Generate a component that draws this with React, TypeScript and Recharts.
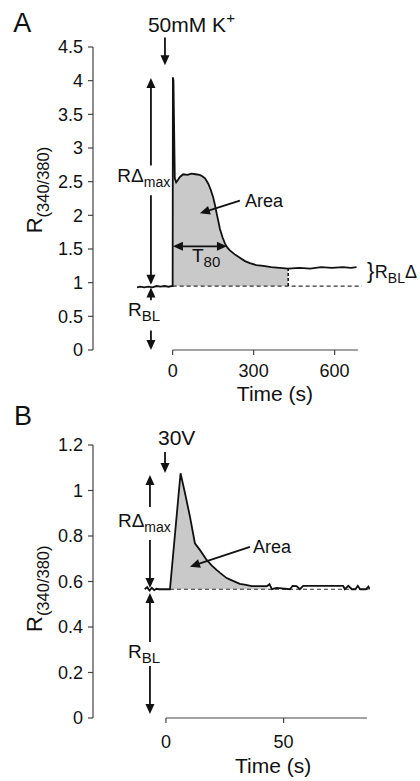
import React from 'react';
import { ComposedChart, Line, Area, XAxis, YAxis, ReferenceLine, ReferenceDot } from 'recharts';

// ---------- Panel A data ----------
const timeA = [-132, -120, -105, -90, -75, -60, -45, -30, -15, -5, 0, 1, 3, 8, 13, 20, 27, 39, 55, 70, 85, 100, 110, 120, 132, 141, 150, 157, 163, 170, 175, 185, 194, 203, 212, 230, 249, 268, 286, 310, 336, 365, 397, 428, 470, 510, 550, 590, 630, 660, 681];
const ratioA = [0.93, 0.94, 0.93, 0.94, 0.93, 0.95, 0.94, 0.95, 0.94, 0.95, 0.95, 4.05, 4.0, 2.55, 2.49, 2.53, 2.57, 2.61, 2.6, 2.62, 2.61, 2.6, 2.58, 2.55, 2.47, 2.38, 2.27, 2.15, 2.03, 1.9, 1.8, 1.67, 1.58, 1.52, 1.48, 1.42, 1.37, 1.32, 1.29, 1.26, 1.25, 1.23, 1.22, 1.21, 1.22, 1.21, 1.23, 1.22, 1.23, 1.22, 1.23];
const baselineA = 0.95;
const shadeEndA = 428;
const xTicksA = [0, 300, 600];
const yTicksA = [0, 0.5, 1, 1.5, 2, 2.5, 3, 3.5, 4, 4.5];

// ---------- Panel B data ----------
const timeB = [-9, -8, -7, -6, -5, -4, -3, 0, 1.7, 6.2, 8.1, 10.2, 12.3, 14.4, 17.3, 19.5, 21.5, 23, 25.8, 28, 31.4, 34, 36.4, 43, 44, 45, 47, 52.7, 53.8, 55.5, 56.9, 58.3, 75.3, 76, 77.5, 79, 80.5, 81.5, 82.5, 85, 86, 86.6];
const ratioB = [0.566, 0.575, 0.56, 0.572, 0.562, 0.568, 0.566, 0.566, 0.566, 1.076, 0.988, 0.885, 0.768, 0.739, 0.695, 0.67, 0.651, 0.638, 0.615, 0.605, 0.59, 0.585, 0.58, 0.58, 0.588, 0.566, 0.572, 0.566, 0.581, 0.58, 0.566, 0.581, 0.581, 0.566, 0.581, 0.566, 0.566, 0.581, 0.566, 0.566, 0.578, 0.566];
const baselineB = 0.566;
const shadeStartB = 1.7;
const shadeEndB = 43;
const xTicksB = [0, 50];
const yTicksB = [0, 0.2, 0.4, 0.6, 0.8, 1, 1.2];

const dataA = timeA.map((t, i) => ({ t, r: ratioA[i], s: t >= 0 && t <= shadeEndA ? ratioA[i] : null }));
const dataB = timeB.map((t, i) => ({ t, r: ratioB[i], s: t >= shadeStartB && t <= shadeEndB ? ratioB[i] : null }));

const FONT = '"Liberation Sans", Arial, Helvetica, sans-serif';
const INK = '#111';
const AXIS = '#444';

const arrowShape = (double = false) => (p: any) => {
  const { x1, y1, x2, y2 } = p;
  const head = 10;
  const half = 4.5;
  const dx = x2 - x1;
  const dy = y2 - y1;
  const len = Math.hypot(dx, dy) || 1;
  const ux = dx / len;
  const uy = dy / len;
  const nx = -uy;
  const ny = ux;
  const tri = (x: number, y: number, vx: number, vy: number) =>
    `${x},${y} ${x - vx * head + nx * half},${y - vy * head + ny * half} ${x - vx * head - nx * half},${y - vy * head - ny * half}`;
  const sx = double ? x1 + ux * head : x1;
  const sy = double ? y1 + uy * head : y1;
  return (
    <g>
      <line x1={sx} y1={sy} x2={x2 - ux * (head - 1)} y2={y2 - uy * (head - 1)} stroke={INK} strokeWidth={1.8} />
      <polygon points={tri(x2, y2, ux, uy)} fill={INK} />
      {double && <polygon points={tri(x1, y1, -ux, -uy)} fill={INK} />}
    </g>
  );
};

const textShape = (content: React.ReactNode, size: number, anchor: 'start' | 'middle' | 'end' = 'start', rotate = false) => (p: any) => (
  <text
    x={p.cx}
    y={p.cy}
    fontSize={size}
    fontFamily={FONT}
    fill={INK}
    textAnchor={anchor}
    transform={rotate ? `rotate(-90 ${p.cx} ${p.cy})` : undefined}
  >
    {content}
  </text>
);

const Arrow = (x1: number, y1: number, x2: number, y2: number, double = false) => (
  <ReferenceLine
    segment={[{ x: x1, y: y1 }, { x: x2, y: y2 }]}
    ifOverflow="visible"
    shape={arrowShape(double)}
  />
);

const Label = (x: number, y: number, content: React.ReactNode, size: number, anchor: 'start' | 'middle' | 'end' = 'start', rotate = false) => (
  <ReferenceDot x={x} y={y} r={0} ifOverflow="visible" shape={textShape(content, size, anchor, rotate)} />
);

const yLabel = (
  <>
    <tspan>R</tspan>
    <tspan fontSize={16.5} dy={7}>(340/380)</tspan>
  </>
);

const tickStyle = { fontSize: 18, fontFamily: FONT, fill: INK };

function PanelA() {
  return (
    <ComposedChart width={420} height={410} data={dataA} margin={{ top: 47, right: 50, bottom: 30, left: 0 }}>
      <XAxis
        dataKey="t"
        type="number"
        domain={[-295, 731]}
        ticks={xTicksA}
        interval={0}
        allowDataOverflow
        axisLine={false}
        tickLine={{ stroke: AXIS, strokeWidth: 1.2 }}
        tickSize={5}
        tickMargin={9}
        height={30}
        tick={tickStyle}
      />
      <YAxis
        type="number"
        domain={[0, 4.5]}
        ticks={yTicksA}
        interval={0}
        width={93}
        axisLine={{ stroke: AXIS, strokeWidth: 1.2 }}
        tickLine={{ stroke: AXIS, strokeWidth: 1.2 }}
        tickSize={5}
        tickMargin={5}
        tick={tickStyle}
      />
      <Area dataKey="s" type="linear" baseValue={baselineA} fill="#c9c9c9" fillOpacity={1} stroke="none" isAnimationActive={false} connectNulls={false} />
      <ReferenceLine segment={[{ x: 0, y: 0 }, { x: 686, y: 0 }]} ifOverflow="visible" stroke={AXIS} strokeWidth={1.2} />
      <ReferenceLine segment={[{ x: 0, y: baselineA }, { x: 701, y: baselineA }]} ifOverflow="visible" stroke="#333" strokeWidth={1.2} strokeDasharray="4 3" />
      <ReferenceLine segment={[{ x: shadeEndA, y: baselineA }, { x: shadeEndA, y: 1.21 }]} ifOverflow="visible" stroke="#111" strokeWidth={1.5} strokeDasharray="3 2" />
      <Line dataKey="r" type="linear" stroke={INK} strokeWidth={1.8} dot={false} isAnimationActive={false} />

      {Label(-590, 4.72, 'A', 27)}
      {Label(-91.5, 4.726, <>50mM K<tspan fontSize={15} dy={-9}>+</tspan></>, 21)}
      {Arrow(-28.5, 4.64, -28.5, 4.23)}
      {Arrow(-80.4, 2.74, -80.4, 4.04)}
      {Arrow(-80.4, 2.3, -80.4, 0.97)}
      {Label(-205, 2.49, <>RΔ<tspan fontSize={14} dy={5}>max</tspan></>, 19)}
      {Arrow(-80.4, 0.74, -80.4, 0.93)}
      {Label(-165, 0.51, <>R<tspan fontSize={15} dy={5}>BL</tspan></>, 19)}
      {Arrow(-80.4, 0.29, -80.4, 0)}
      {Label(268, 2.12, 'Area', 18)}
      {Arrow(249, 2.22, 101, 2.03)}
      {Arrow(1, 1.54, 201, 1.54, true)}
      {Label(71.5, 1.3, <>T<tspan fontSize={15} dy={5}>80</tspan></>, 19)}
      {Label(720, 1.07, '}', 22)}
      {Label(749, 1.065, <>R<tspan fontSize={14} dy={5}>BL</tspan><tspan dy={-5}>Δ</tspan></>, 18)}
      {Label(-484, 1.733, yLabel, 22, 'start', true)}
      {Label(379, -0.75, 'Time (s)', 21, 'middle')}
    </ComposedChart>
  );
}

function PanelB() {
  return (
    <ComposedChart width={420} height={381} data={dataB} margin={{ top: 45, right: 50, bottom: 33, left: 0 }}>
      <XAxis
        dataKey="t"
        type="number"
        domain={[-31, 86.7]}
        ticks={xTicksB}
        interval={0}
        allowDataOverflow
        axisLine={false}
        tickLine={{ stroke: AXIS, strokeWidth: 1.2 }}
        tickSize={5}
        tickMargin={12}
        height={30}
        tick={tickStyle}
      />
      <YAxis
        type="number"
        domain={[0, 1.2]}
        ticks={yTicksB}
        interval={0}
        width={93}
        axisLine={{ stroke: AXIS, strokeWidth: 1.2 }}
        tickLine={{ stroke: AXIS, strokeWidth: 1.2 }}
        tickSize={5}
        tickMargin={5}
        tick={tickStyle}
      />
      <Area dataKey="s" type="linear" baseValue={baselineB} fill="#c9c9c9" fillOpacity={1} stroke="none" isAnimationActive={false} connectNulls={false} />
      <ReferenceLine segment={[{ x: 0, y: 0 }, { x: 85.4, y: 0 }]} ifOverflow="visible" stroke={AXIS} strokeWidth={1.2} />
      <ReferenceLine segment={[{ x: shadeStartB, y: baselineB }, { x: 86, y: baselineB }]} ifOverflow="visible" stroke="#333" strokeWidth={1.2} strokeDasharray="4 3" />
      <Line dataKey="r" type="linear" stroke={INK} strokeWidth={1.8} dot={false} isAnimationActive={false} />

      {Label(-64.6, 1.288, 'B', 27)}
      {Label(-3.4, 1.2, '30V', 21)}
      {Arrow(-0.4, 1.169, -0.4, 1.077)}
      {Label(-20.4, 0.84, <>RΔ<tspan fontSize={14} dy={5}>max</tspan></>, 19)}
      {Arrow(-6.8, 0.927, -6.8, 1.068)}
      {Arrow(-6.8, 0.782, -6.8, 0.571)}
      {Arrow(-6.8, 0.334, -6.8, 0.549)}
      {Label(-16.1, 0.264, <>R<tspan fontSize={15} dy={5}>BL</tspan></>, 19)}
      {Arrow(-6.8, 0.229, -6.8, 0.018)}
      {Label(37, 0.725, 'Area', 18)}
      {Arrow(35.7, 0.752, 10.2, 0.665)}
      {Label(-52.7, 0.378, yLabel, 22, 'start', true)}
      {Label(45.5, -0.242, 'Time (s)', 21, 'middle')}
    </ComposedChart>
  );
}

export default function App() {
  return (
    <div style={{ position: 'absolute', left: 0, top: 0, width: 420, height: 781, background: '#fff' }}>
      <div style={{ position: 'absolute', left: 0, top: 0 }}>
        <PanelA />
      </div>
      <div style={{ position: 'absolute', left: 0, top: 400 }}>
        <PanelB />
      </div>
    </div>
  );
}
